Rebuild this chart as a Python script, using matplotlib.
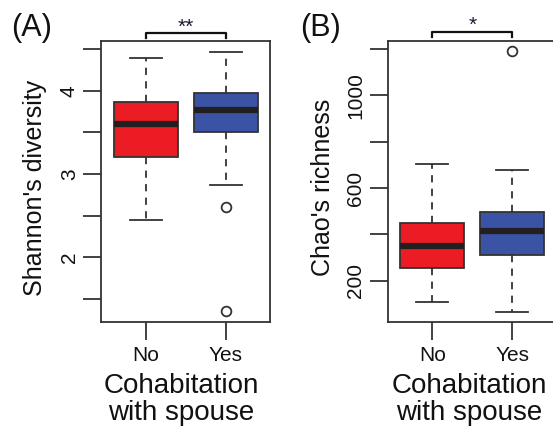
import matplotlib
matplotlib.use('Agg')
import matplotlib.pyplot as plt

plt.rcParams['font.family'] = ['Liberation Sans', 'DejaVu Sans']

# Box statistics (whislo, q1, med, q3, whishi, fliers)
groups = ['No', 'Yes']
colors = ['#ec1c24', '#3a53a4']

shannon_stats = [
    dict(whislo=2.45, q1=3.21, med=3.60, q3=3.87, whishi=4.40, fliers=[]),
    dict(whislo=2.87, q1=3.50, med=3.77, q3=3.98, whishi=4.47, fliers=[2.60, 1.35]),
]
chao_stats = [
    dict(whislo=109, q1=257, med=351, q3=447, whishi=704, fliers=[]),
    dict(whislo=65, q1=309, med=416, q3=498, whishi=679, fliers=[1190]),
]

shannon_ticks = [1.5, 2, 2.5, 3, 3.5, 4, 4.5]
shannon_labels = ['', '2', '', '3', '', '4', '']
chao_ticks = [200, 400, 600, 800, 1000, 1200]
chao_labels = ['200', '', '600', '', '1000', '']

W, H = 553, 429
fig = plt.figure(figsize=(W / 100, H / 100), dpi=100)

edge = '#333333'


def draw_panel(left, stats, ylim, ticks, labels, ylabel, ylabel_xy, letter, letter_xy,
               bracket_y, stars, stars_y, xlabel_x):
    ax = fig.add_axes([left / W, (H - 322) / H, 169 / W, 281 / H])
    for i, st in enumerate(stats):
        st['label'] = groups[i]
    bp = ax.bxp(stats, positions=[1, 2], widths=0.8, patch_artist=True,
                showfliers=True,
                boxprops=dict(edgecolor=edge, linewidth=1.3),
                medianprops=dict(color='#231f20', linewidth=4.5, solid_capstyle='butt'),
                whiskerprops=dict(color=edge, linewidth=1.3, linestyle=(0, (4, 3.5))),
                capprops=dict(color=edge, linewidth=1.3),
                capwidths=0.4,
                flierprops=dict(marker='o', markersize=7, markerfacecolor='none',
                                markeredgecolor=edge, markeredgewidth=1.3))
    for patch, c in zip(bp['boxes'], colors):
        patch.set_facecolor(c)
    ax.set_xlim(0.44, 2.555)
    ax.set_ylim(*ylim)
    ax.set_yticks(ticks)
    ax.set_yticklabels(labels, rotation=90, va='center')
    ax.set_xticks([1, 2])
    ax.set_xticklabels(groups)
    ax.tick_params(axis='both', length=13, width=1.3, color=edge, labelsize=15,
                   labelcolor='#111111')
    ax.tick_params(axis='y', pad=3)
    ax.tick_params(axis='x', pad=4)
    for s in ax.spines.values():
        s.set_color(edge)
        s.set_linewidth(1.3)

    # significance bracket
    y0, y1 = bracket_y
    ax.plot([1, 1, 2, 2], [y1, y0, y0, y1], color='#111111', lw=1.6, clip_on=False)
    ax.text(1.5, stars_y, stars, ha='center', va='center', fontsize=15,
            color='#1a1a33')

    fig.text(ylabel_xy[0] / W, 1 - ylabel_xy[1] / H, ylabel, rotation=90,
             ha='center', va='center', fontsize=18, color='#111111')
    fig.text(letter_xy[0] / W, 1 - letter_xy[1] / H, letter, ha='left', va='center',
             fontsize=22, color='#111111')
    fig.text(xlabel_x / W, 1 - 386 / H, 'Cohabitation', ha='center', va='center',
             fontsize=20, color='#111111')
    fig.text(xlabel_x / W, 1 - 413 / H, 'with spouse', ha='center', va='center',
             fontsize=20, color='#111111')
    return ax


draw_panel(101, shannon_stats, (1.22, 4.6), shannon_ticks, shannon_labels,
           "Shannon's diversity", (35, 188), '(A)', (11, 28),
           (4.692, 4.64), '**', 4.77, 181)
draw_panel(387.7, chao_stats, (22, 1234), chao_ticks, chao_labels,
           "Chao's richness", (323, 187), '(B)', (300, 28),
           (1273, 1252), '*', 1303, 469)

fig.savefig('out.png', dpi=100, facecolor='white')
